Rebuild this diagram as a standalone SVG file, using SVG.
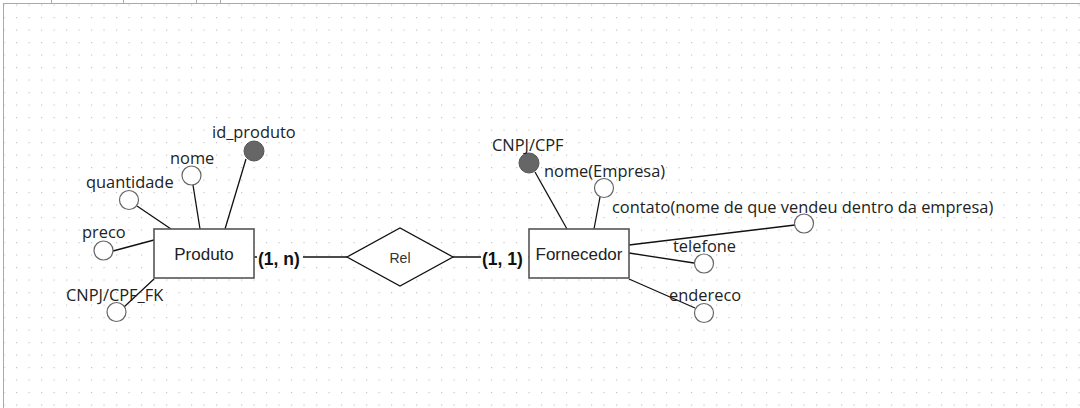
<svg xmlns="http://www.w3.org/2000/svg" width="1080" height="408" viewBox="0 0 1080 408">
<defs>
<pattern id="grid" x="3.5" y="4.5" width="12.5" height="12.5" patternUnits="userSpaceOnUse">
<rect x="0" y="0" width="1.2" height="1.2" fill="#c4c4c4"/>
</pattern>
<style>
.lbl{font-family:"Open Sans","Noto Sans","DejaVu Sans",sans-serif;font-size:16.4px;fill:#222}
.ent{fill:#fff;stroke:#555;stroke-width:1.6}
.entt{font-family:"Liberation Sans",Arial,sans-serif;font-size:17px;fill:#222;text-anchor:middle;dominant-baseline:central}
.attr{fill:#fff;stroke:#666;stroke-width:1.2}
.key{fill:#666;stroke:#555;stroke-width:1}
.ln{stroke:#111;stroke-width:1.3;fill:none}
.card{font-family:"Liberation Sans",Arial,sans-serif;font-size:17.5px;font-weight:bold;fill:#111;dominant-baseline:central}
</style>
</defs>
<rect width="1080" height="408" fill="#fff"/>
<rect x="3" y="4" width="1077" height="404" fill="url(#grid)"/>
<g id="frame" stroke="#aaa" stroke-width="1">
<line x1="3" y1="3.5" x2="1080" y2="3.5"/>
<line x1="3.5" y1="3" x2="3.5" y2="408"/>
<line x1="51.5" y1="0" x2="51.5" y2="3"/>
<line x1="123.5" y1="0" x2="123.5" y2="3"/>
<line x1="196.5" y1="0" x2="196.5" y2="3"/>
<line x1="220.5" y1="0" x2="220.5" y2="3"/>
</g>
<g id="connectors">
<line class="ln" x1="246" y1="159" x2="225" y2="229"/>
<line class="ln" x1="193" y1="185" x2="200" y2="229"/>
<line class="ln" x1="137" y1="206" x2="171" y2="229"/>
<line class="ln" x1="113" y1="251" x2="154" y2="240"/>
<line class="ln" x1="124" y1="307" x2="154" y2="279"/>
<line class="ln" x1="254" y1="257" x2="347" y2="257"/>
<line class="ln" x1="453" y1="257" x2="529" y2="257"/>
<line class="ln" x1="535" y1="172" x2="567" y2="229"/>
<line class="ln" x1="600" y1="197" x2="594" y2="229"/>
<line class="ln" x1="629" y1="245" x2="795" y2="225"/>
<line class="ln" x1="629" y1="253" x2="694" y2="263"/>
<line class="ln" x1="629" y1="279" x2="695" y2="308"/>
</g>
<g id="Produto">
<rect class="ent" x="154" y="229" width="100" height="49"/>
<text class="entt" x="204" y="254">Produto</text>
</g>
<g id="id_produto">
<circle class="key" cx="254" cy="151" r="10"/>
<text class="lbl" x="212" y="138">id_produto</text>
</g>
<g id="nome">
<circle class="attr" cx="191.5" cy="175.5" r="9.5"/>
<text class="lbl" x="170" y="164">nome</text>
</g>
<g id="quantidade">
<circle class="attr" cx="129" cy="200" r="9.5"/>
<text class="lbl" x="86" y="188">quantidade</text>
</g>
<g id="preco">
<circle class="attr" cx="103.5" cy="250.5" r="9.5"/>
<text class="lbl" x="82" y="238">preco</text>
</g>
<g id="cnpj_fk">
<circle class="attr" cx="116.5" cy="312" r="9.5"/>
<text class="lbl" x="66" y="301">CNPJ/CPF_FK</text>
</g>
<g id="card_n">
<rect x="257" y="248" width="46" height="19" fill="#fff"/>
<text class="card" x="258" y="259">(1, n)</text>
</g>
<g id="Rel">
<polygon points="347,257 400,228 453,257 400,286" fill="#fff" stroke="#111" stroke-width="1.3"/>
<text x="400" y="258" font-family="Liberation Sans,Arial,sans-serif" font-size="14" fill="#333" text-anchor="middle" dominant-baseline="central">Rel</text>
</g>
<g id="card_1">
<rect x="481" y="248" width="47.5" height="19" fill="#fff"/>
<text class="card" x="482" y="259">(1, 1)</text>
</g>
<g id="Fornecedor">
<rect class="ent" x="529" y="229" width="100" height="49"/>
<text class="entt" x="579" y="254">Fornecedor</text>
</g>
<g id="cnpj_cpf">
<circle class="key" cx="529" cy="163" r="10"/>
<text class="lbl" x="492" y="151">CNPJ/CPF</text>
</g>
<g id="nome_empresa">
<circle class="attr" cx="604" cy="188" r="9.5"/>
<text class="lbl" x="544" y="177">nome(Empresa)</text>
</g>
<g id="contato">
<circle class="attr" cx="804" cy="223.5" r="9.5"/>
<text class="lbl" x="612" y="213">contato(nome de que vendeu dentro da empresa)</text>
</g>
<g id="telefone">
<circle class="attr" cx="704" cy="263.5" r="9.5"/>
<text class="lbl" x="673" y="252">telefone</text>
</g>
<g id="endereco">
<circle class="attr" cx="704" cy="313" r="9.5"/>
<text class="lbl" x="669" y="301">endereco</text>
</g>
</svg>
